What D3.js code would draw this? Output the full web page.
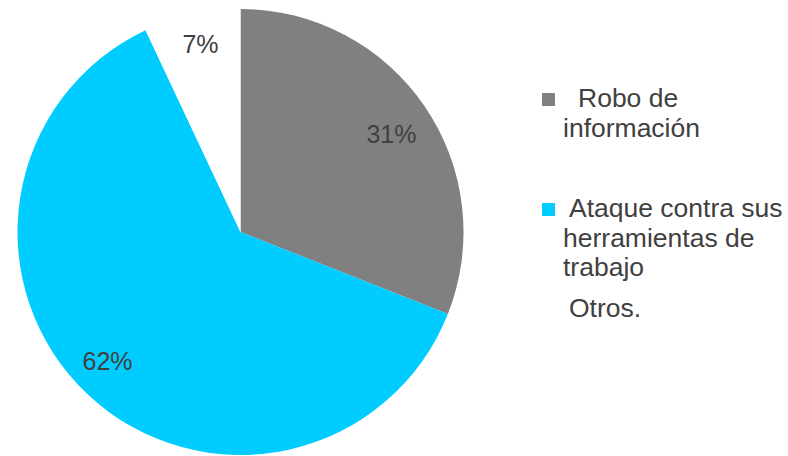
<!DOCTYPE html>
<html>
<head>
  <meta charset="UTF-8">
  <title>Pie</title>
  <script src="https://cdn.jsdelivr.net/npm/d3@7"></script>
  <style>
    body { margin: 0; background: #fff; }
    text { font-family: "Liberation Sans", Arial, sans-serif; fill: #404040; }
  </style>
</head>
<body>
  <svg id="chart" width="788" height="456"></svg>
  <script>
    // chart data
    const categories = ['Robo de información', 'Ataque contra sus herramientas de trabajo', 'Otros.'];
    const values = [31, 62, 7];
    const colors = ['#808080', '#00CCFF', '#FFFFFF'];
    // legend text, wrapped as in the picture
    const legendLines = [['Robo de', 'información'], ['Ataque contra sus', 'herramientas de', 'trabajo'], ['Otros.']];
    const firstIndent = [15, 6, 6];

    const svg = d3.select('#chart');
    const cx = 240.5, cy = 232, r = 223;

    const pie = d3.pie().sort(null).value(d => d);
    const arcs = pie(values);
    const arc = d3.arc().innerRadius(0).outerRadius(r);

    const g = svg.append('g').attr('transform', `translate(${cx},${cy})`);

    g.selectAll('path')
      .data(arcs)
      .enter().append('path')
      .attr('d', arc)
      .attr('fill', (d, i) => colors[i]);

    const labelPos = [[151, -89], [-133, 138], [-40, -179]];
    g.selectAll('text.pct')
      .data(arcs)
      .enter().append('text')
      .attr('class', 'pct')
      .attr('x', (d, i) => labelPos[i][0])
      .attr('y', (d, i) => labelPos[i][1])
      .attr('text-anchor', 'middle')
      .style('font-size', '25px')
      .text(d => Math.round(d.data) + '%');

    // legend
    const legendTop = [107, 217, 317];
    const leg = svg.append('g');
    categories.forEach((c, i) =>
    {
      const item = leg.append('g');
      item.append('rect')
        .attr('x', 542).attr('y', legendTop[i] - 14)
        .attr('width', 13).attr('height', 13)
        .attr('fill', colors[i]);
      const t = item.append('text')
        .style('font-size', '26.5px');
      legendLines[i].forEach((line, j) =>
      {
        t.append('tspan')
          .attr('x', 563 + (j === 0 ? firstIndent[i] : 0))
          .attr('y', legendTop[i] + j * 29.5)
          .text(line);
      });
    });
  </script>
</body>
</html>
